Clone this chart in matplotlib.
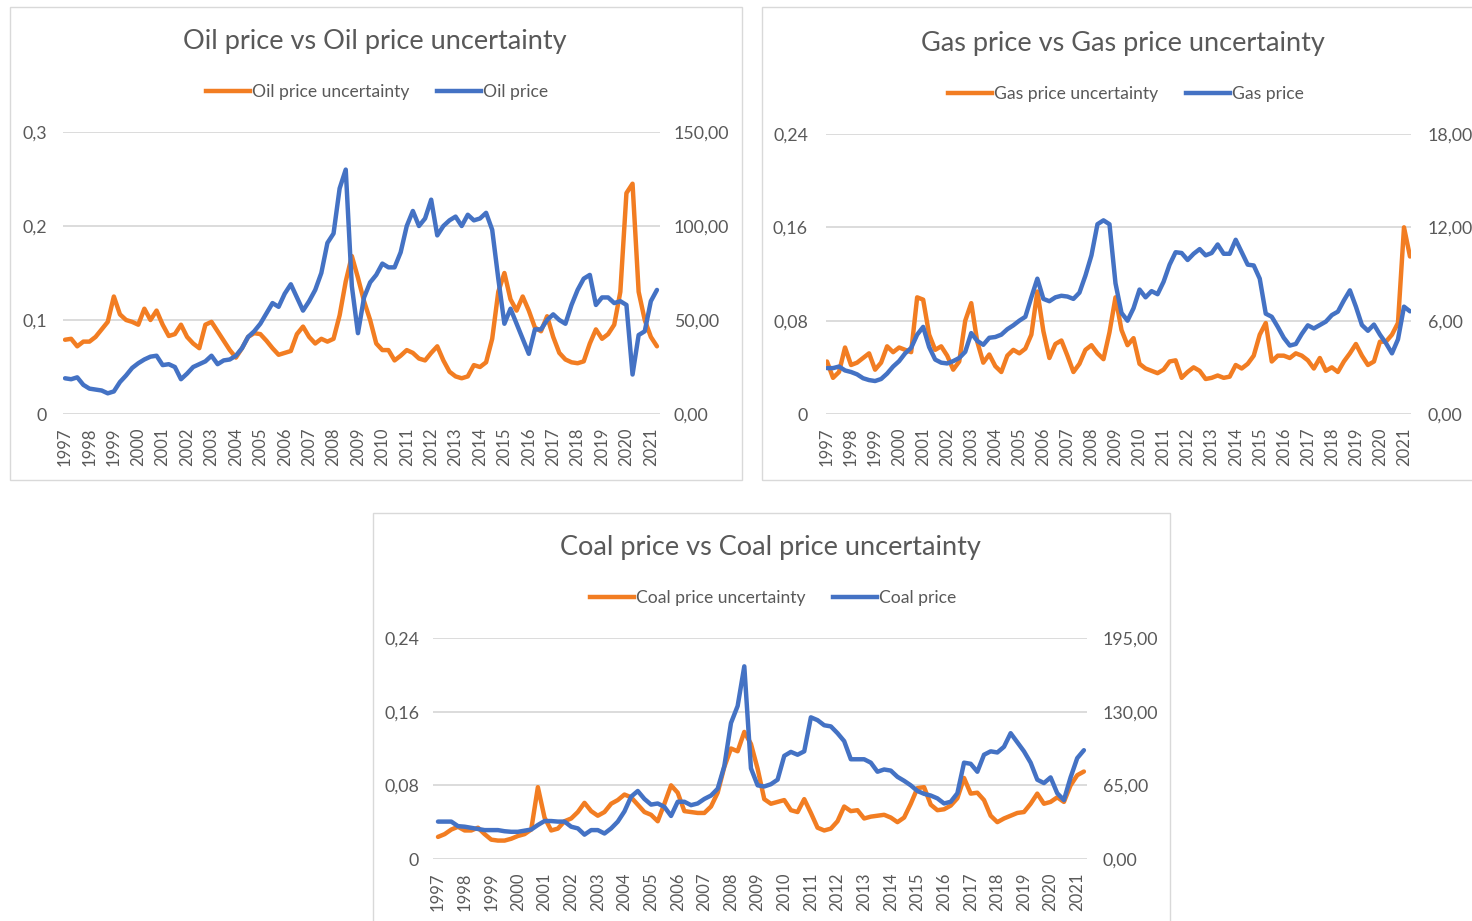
import numpy as np
import matplotlib
matplotlib.use("Agg")
import matplotlib.pyplot as plt
from matplotlib.lines import Line2D
from matplotlib.patches import Rectangle

plt.rcParams['font.family'] = ['Lato', 'DejaVu Sans']

# ---------------------------------------------------------------- data
# Quarterly observations, Jan 1997 .. Apr 2021 (one value every 3 months)
years = [str(y) for y in range(1997, 2022)]

oil_uncertainty = [
    0.079, 0.080, 0.072, 0.077,
    0.077, 0.082, 0.090, 0.098,
    0.125, 0.106, 0.100, 0.098,
    0.095, 0.112, 0.100, 0.110,
    0.095, 0.083, 0.085, 0.095,
    0.082, 0.075, 0.070, 0.095,
    0.098, 0.088, 0.078, 0.068,
    0.060, 0.070, 0.082, 0.086,
    0.085, 0.078, 0.070, 0.063,
    0.065, 0.067, 0.085, 0.093,
    0.082, 0.075, 0.080, 0.077,
    0.080, 0.105, 0.141, 0.168,
    0.145, 0.120, 0.100, 0.075,
    0.068, 0.068, 0.057, 0.062,
    0.068, 0.065, 0.059, 0.057,
    0.065, 0.072, 0.057, 0.045,
    0.040, 0.038, 0.040, 0.052,
    0.050, 0.055, 0.080, 0.130,
    0.150, 0.122, 0.110, 0.125,
    0.110, 0.092, 0.088, 0.104,
    0.082, 0.065, 0.058, 0.055,
    0.054, 0.056, 0.075, 0.090,
    0.080, 0.085, 0.095, 0.130,
    0.235, 0.245, 0.130, 0.100,
    0.082, 0.072,
]
oil_price = [
    19.0, 18.5, 19.5, 15.5,
    13.5, 13.0, 12.5, 11.0,
    12.0, 17.0, 20.5, 24.5,
    27.0, 29.0, 30.5, 31.0,
    26.0, 26.5, 25.0, 18.5,
    21.5, 25.0, 26.5, 28.0,
    31.0, 26.5, 28.5, 29.0,
    31.0, 35.0, 41.0, 44.0,
    48.0, 53.5, 59.0, 57.0,
    64.0, 69.0, 62.0, 55.0,
    60.0, 66.0, 75.0, 91.0,
    96.0, 120.0, 130.0, 68.0,
    43.0, 62.0, 70.0, 74.0,
    80.0, 78.0, 78.0, 86.0,
    100.0, 108.0, 100.0, 104.0,
    114.0, 95.0, 100.0, 103.0,
    105.0, 100.0, 106.0, 103.0,
    104.0, 107.0, 98.0, 72.0,
    48.0, 56.0, 48.0, 40.0,
    32.0, 45.0, 45.0, 50.0,
    53.0, 50.0, 48.0, 58.0,
    66.0, 72.0, 74.0, 58.0,
    62.0, 62.0, 59.0, 60.0,
    58.0, 21.0, 42.0, 44.0,
    60.0, 66.0,
]

gas_uncertainty = [
    0.045, 0.031, 0.036, 0.057,
    0.042, 0.044, 0.048, 0.052,
    0.038, 0.044, 0.058, 0.053,
    0.057, 0.055, 0.053, 0.100,
    0.098, 0.068, 0.055, 0.058,
    0.050, 0.038, 0.045, 0.080,
    0.095, 0.062, 0.044, 0.051,
    0.041, 0.036, 0.050, 0.055,
    0.052, 0.056, 0.068, 0.105,
    0.071, 0.048, 0.060, 0.063,
    0.050, 0.036, 0.043, 0.055,
    0.059, 0.052, 0.047, 0.070,
    0.100, 0.072, 0.059, 0.065,
    0.043, 0.039, 0.037, 0.035,
    0.038, 0.045, 0.046, 0.031,
    0.036, 0.040, 0.037, 0.030,
    0.031, 0.033, 0.031, 0.032,
    0.042, 0.039, 0.043, 0.050,
    0.068, 0.078, 0.045, 0.050,
    0.050, 0.048, 0.052, 0.050,
    0.046, 0.039, 0.048, 0.037,
    0.040, 0.036, 0.045, 0.052,
    0.060, 0.050, 0.042, 0.045,
    0.062, 0.062, 0.068, 0.078,
    0.160, 0.135,
]
gas_price = [
    2.95, 2.95, 3.05, 2.80,
    2.70, 2.55, 2.30, 2.18,
    2.12, 2.25, 2.60, 3.05,
    3.40, 3.90, 4.25, 5.10,
    5.60, 4.30, 3.50, 3.30,
    3.25, 3.40, 3.60, 4.00,
    5.20, 4.70, 4.45, 4.90,
    4.95, 5.10, 5.45, 5.70,
    6.00, 6.25, 7.50, 8.70,
    7.40, 7.25, 7.50, 7.60,
    7.55, 7.40, 7.80, 8.90,
    10.20, 12.20, 12.45, 12.20,
    8.40, 6.50, 6.00, 6.80,
    8.00, 7.50, 7.90, 7.70,
    8.50, 9.60, 10.40, 10.35,
    9.90, 10.30, 10.60, 10.20,
    10.35, 10.90, 10.30, 10.30,
    11.20, 10.40, 9.60, 9.55,
    8.70, 6.45, 6.25, 5.60,
    4.90, 4.40, 4.50, 5.15,
    5.70, 5.50, 5.72, 5.94,
    6.36, 6.58, 7.30, 7.95,
    6.90, 5.72, 5.35, 5.75,
    5.10, 4.55, 3.90, 4.80,
    6.90, 6.60,
]

coal_uncertainty = [
    0.024, 0.027, 0.032, 0.035,
    0.031, 0.031, 0.034, 0.027,
    0.021, 0.020, 0.020, 0.022,
    0.025, 0.027, 0.032, 0.078,
    0.045, 0.031, 0.033, 0.041,
    0.044, 0.051, 0.061, 0.052,
    0.047, 0.051, 0.060, 0.064,
    0.070, 0.067, 0.059, 0.051,
    0.048, 0.041, 0.060, 0.080,
    0.072, 0.052, 0.051, 0.050,
    0.050, 0.057, 0.072, 0.100,
    0.120, 0.117, 0.138, 0.125,
    0.098, 0.065, 0.060, 0.062,
    0.064, 0.053, 0.051, 0.065,
    0.050, 0.034, 0.031, 0.033,
    0.041, 0.057, 0.052, 0.053,
    0.044, 0.046, 0.047, 0.048,
    0.045, 0.040, 0.045, 0.060,
    0.077, 0.078, 0.059, 0.053,
    0.054, 0.058, 0.066, 0.088,
    0.071, 0.072, 0.064, 0.047,
    0.040, 0.044, 0.047, 0.050,
    0.051, 0.060, 0.071, 0.060,
    0.062, 0.067, 0.062, 0.080,
    0.091, 0.095,
]
coal_price = [
    33.0, 33.0, 33.0, 29.0,
    28.5, 27.5, 26.5, 25.5,
    25.5, 25.5, 24.5, 24.0,
    24.0, 25.0, 26.0, 30.0,
    33.5, 33.5, 33.0, 33.0,
    28.5, 27.0, 21.5, 25.5,
    25.5, 22.5, 27.0, 33.0,
    42.0, 55.0, 60.0, 53.0,
    48.0, 49.0, 46.0, 38.0,
    50.5, 50.5, 47.5, 49.0,
    53.0, 56.0, 62.0, 82.0,
    120.0, 135.0, 170.0, 80.0,
    65.0, 64.0, 66.0, 70.0,
    91.0, 94.5, 92.0, 95.0,
    125.0, 122.5, 118.0, 117.0,
    111.0, 104.0, 88.0, 88.0,
    88.0, 85.0, 77.0, 79.0,
    78.0, 72.5, 69.0, 65.0,
    60.0, 57.5, 56.0, 53.5,
    49.0, 50.5, 58.0, 85.0,
    84.0, 77.0, 92.0, 95.0,
    94.0, 99.0, 111.0, 103.0,
    95.0, 85.0, 70.0, 67.0,
    72.0, 58.0, 52.0, 72.0,
    89.0, 96.0,
]

left_ticks_oil = [0, 0.1, 0.2, 0.3]
left_labels_oil = ['0', '0,1', '0,2', '0,3']
right_ticks_oil = [0, 50, 100, 150]
right_labels_oil = ['0,00', '50,00', '100,00', '150,00']

left_ticks_small = [0, 0.08, 0.16, 0.24]
left_labels_small = ['0', '0,08', '0,16', '0,24']
right_ticks_gas = [0, 6, 12, 18]
right_labels_gas = ['0,00', '6,00', '12,00', '18,00']
right_ticks_coal = [0, 65, 130, 195]
right_labels_coal = ['0,00', '65,00', '130,00', '195,00']

# ---------------------------------------------------------------- styling
W, H = 1472, 921
ORANGE = '#F27D22'
BLUE = '#4472C4'
TXT = '#595959'
GRID = '#D9D9D9'
LW = 3.2

fig = plt.figure(figsize=(W / 100, H / 100), dpi=100)
fig.patch.set_facecolor('white')


def frame(x0, y0, x1, y1):
    fig.patches.append(Rectangle((x0 / W, 1 - y1 / H), (x1 - x0) / W, (y1 - y0) / H,
                                 transform=fig.transFigure, fill=False,
                                 ec=GRID, lw=1.0))


def panel(box, xlim, unc, price, lticks, llabels, rticks, rlabels,
          title, title_xy, legend_xy, names, lpad, rpad):
    l, t, r, b = box
    ax = fig.add_axes([l / W, 1 - b / H, (r - l) / W, (b - t) / H])
    months = np.arange(len(unc)) * 3
    ax.plot(months, unc, color=ORANGE, lw=LW, solid_joinstyle='round',
            solid_capstyle='round')
    ax.set_ylim(lticks[0], lticks[-1])
    ax.set_yticks(lticks)
    ax.set_yticklabels(llabels)
    ax.set_xlim(*xlim)
    ax.set_xticks(np.arange(len(years)) * 12)
    ax.set_xticklabels(years, rotation=90)
    ax.grid(axis='y', color=GRID, lw=1.3)
    ax.set_axisbelow(True)
    ax.tick_params(axis='y', length=0, pad=lpad, labelsize=12.8, labelcolor=TXT)
    ax.tick_params(axis='x', length=0, pad=9.5, labelsize=12, labelcolor=TXT)
    for s in ax.spines.values():
        s.set_visible(False)

    ax2 = ax.twinx()
    ax2.plot(months, price, color=BLUE, lw=LW, solid_joinstyle='round',
             solid_capstyle='round')
    ax2.set_ylim(rticks[0], rticks[-1])
    ax2.set_yticks(rticks)
    ax2.set_yticklabels(rlabels)
    ax2.set_xlim(*xlim)
    ax2.tick_params(axis='y', length=0, pad=rpad, labelsize=12.8, labelcolor=TXT)
    for s in ax2.spines.values():
        s.set_visible(False)

    fig.text(title_xy[0] / W, 1 - title_xy[1] / H, title, ha='center', va='center',
             fontsize=19.5, color=TXT)
    handles = [Line2D([], [], color=ORANGE, lw=LW), Line2D([], [], color=BLUE, lw=LW)]
    fig.legend(handles, names, loc='center', ncol=2, frameon=False,
               bbox_to_anchor=(legend_xy[0] / W, 1 - legend_xy[1] / H),
               fontsize=12.6, labelcolor=TXT, handlelength=2.5,
               handletextpad=0.12, columnspacing=1.6)


# panel frames
frame(10, 7, 742, 480)
frame(762, 7, 1490, 480)
frame(373, 513, 1170, 940)

panel((63, 132, 660, 414), (-1.0, 292.5), oil_uncertainty, oil_price,
      left_ticks_oil, left_labels_oil, right_ticks_oil, right_labels_oil,
      'Oil price vs Oil price uncertainty', (375, 41), (377, 92),
      ['Oil price uncertainty', 'Oil price'], 11.5, 10)

panel((826, 134, 1411, 414), (-0.5, 291.5), gas_uncertainty, gas_price,
      left_ticks_small, left_labels_small, right_ticks_gas, right_labels_gas,
      'Gas price vs Gas price uncertainty', (1123, 43), (1126, 94),
      ['Gas price uncertainty', 'Gas price'], 13, 12)

panel((433, 638, 1087, 859), (-2.25, 292.4), coal_uncertainty, coal_price,
      left_ticks_small, left_labels_small, right_ticks_coal, right_labels_coal,
      'Coal price vs Coal price uncertainty', (770, 547), (773, 598),
      ['Coal price uncertainty', 'Coal price'], 10, 11.5)

fig.savefig('out.png', dpi=100, facecolor='white')
